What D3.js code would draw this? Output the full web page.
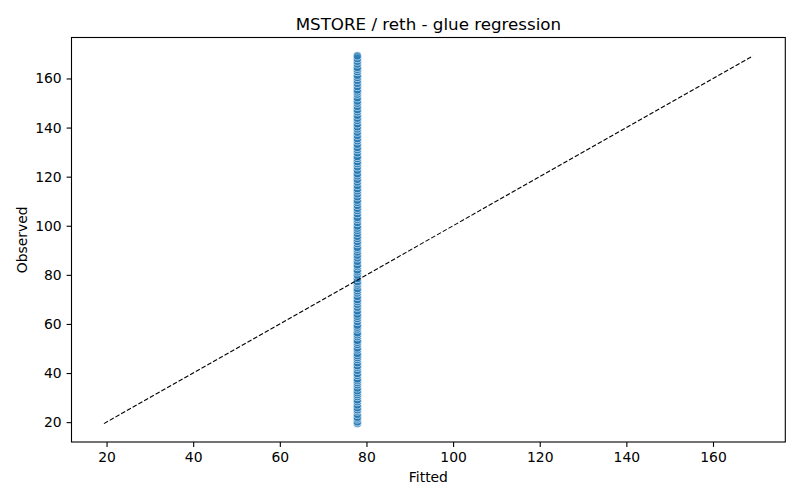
<!DOCTYPE html>
<html>
<head>
<meta charset="utf-8">
<script src="https://cdn.jsdelivr.net/npm/d3@7"></script>
<style>
  body { margin: 0; background: #fff; }
  svg text { font-family: "DejaVu Sans", sans-serif; fill: #000; }
</style>
</head>
<body>
<div id="chart"></div>
<script>
var observed = [
  19.4, 20.1, 21.3, 22.0, 23.2, 24.5, 25.1, 25.9, 27.0, 28.3, 29.1, 30.4,
  31.2, 32.0, 32.8, 33.9, 35.2, 36.1, 36.9, 37.6, 39.0, 39.8, 41.1, 42.3,
  43.0, 44.2, 45.5, 46.3, 47.1, 48.0, 49.4, 50.2, 51.6, 52.5, 53.3, 54.8,
  55.6, 56.4, 57.9, 58.7, 59.5, 61.0, 62.2, 63.1, 64.0, 65.3, 66.8, 68.0,
  69.1, 69.9, 71.2, 72.6, 73.5, 74.4, 75.8, 76.6, 77.3, 78.5, 79.9, 81.2,
  82.0, 83.4, 84.1, 85.5, 86.9, 88.0, 89.3, 90.4, 91.2, 92.7, 93.6, 94.8,
  95.7, 96.9, 98.1, 99.0, 99.9, 101.3, 102.6, 103.4, 104.9, 106.2, 107.1, 108.3,
  109.5, 110.4, 111.8, 113.0, 114.2, 115.1, 116.4, 117.8, 118.9, 120.3, 121.2, 122.6,
  124.0, 125.3, 126.1, 127.4, 128.2, 129.7, 131.0, 131.9, 133.2, 134.6, 135.5, 136.8,
  138.1, 139.4, 140.3, 141.5, 142.9, 143.8, 145.0, 146.4, 147.3, 148.6, 149.9, 150.8,
  152.1, 153.6, 154.5, 155.3, 156.7, 158.0, 159.2, 160.4, 161.3, 162.8, 163.7, 164.5,
  165.9, 167.0, 168.1, 169.2
];

// the model predicts the same value for every row
var fitted = [
  77.9, 77.9, 77.9, 77.9, 77.9, 77.9, 77.9, 77.9, 77.9, 77.9, 77.9, 77.9,
  77.9, 77.9, 77.9, 77.9, 77.9, 77.9, 77.9, 77.9, 77.9, 77.9, 77.9, 77.9,
  77.9, 77.9, 77.9, 77.9, 77.9, 77.9, 77.9, 77.9, 77.9, 77.9, 77.9, 77.9,
  77.9, 77.9, 77.9, 77.9, 77.9, 77.9, 77.9, 77.9, 77.9, 77.9, 77.9, 77.9,
  77.9, 77.9, 77.9, 77.9, 77.9, 77.9, 77.9, 77.9, 77.9, 77.9, 77.9, 77.9,
  77.9, 77.9, 77.9, 77.9, 77.9, 77.9, 77.9, 77.9, 77.9, 77.9, 77.9, 77.9,
  77.9, 77.9, 77.9, 77.9, 77.9, 77.9, 77.9, 77.9, 77.9, 77.9, 77.9, 77.9,
  77.9, 77.9, 77.9, 77.9, 77.9, 77.9, 77.9, 77.9, 77.9, 77.9, 77.9, 77.9,
  77.9, 77.9, 77.9, 77.9, 77.9, 77.9, 77.9, 77.9, 77.9, 77.9, 77.9, 77.9,
  77.9, 77.9, 77.9, 77.9, 77.9, 77.9, 77.9, 77.9, 77.9, 77.9, 77.9, 77.9,
  77.9, 77.9, 77.9, 77.9, 77.9, 77.9, 77.9, 77.9, 77.9, 77.9, 77.9, 77.9,
  77.9, 77.9, 77.9, 77.9
];

var diagonal = [19.4, 169.2];
var xTicks = [20, 40, 60, 80, 100, 120, 140, 160];
var yTicks = [20, 40, 60, 80, 100, 120, 140, 160];

var margin = {top: 37.5, right: 14.7, bottom: 58, left: 71.5},
    totalW = 800,
    totalH = 500,
    width = totalW - margin.left - margin.right,
    height = totalH - margin.top - margin.bottom;

// matplotlib style 5% padding around the data range
var lo = diagonal[0], hi = diagonal[1], pad = (hi - lo) * 0.05;

var x = d3.scaleLinear().domain([lo - pad, hi + pad]).range([0, width]);
var y = d3.scaleLinear().domain([lo - pad, hi + pad]).range([height, 0]);

var svg = d3.select('#chart').append('svg')
    .attr('width', totalW)
    .attr('height', totalH);

var g = svg.append('g')
    .attr('transform', 'translate(' + margin.left + ',' + margin.top + ')');

var points = observed.map(function(d, i) {
  return {fitted: fitted[i], observed: d};
});

g.selectAll('circle').data(points)
  .enter().append('circle')
    .attr('cx', function(d) { return x(d.fitted); })
    .attr('cy', function(d) { return y(d.observed); })
    .attr('r', 4.1)
    .attr('fill', '#1f77b4')
    .attr('fill-opacity', 0.75)
    .attr('stroke', '#fff')
    .attr('stroke-opacity', 0.75)
    .attr('stroke-width', 0.8);

var line = d3.line()
    .x(function(d) { return x(d); })
    .y(function(d) { return y(d); });

g.append('path')
    .datum(diagonal)
    .attr('d', line)
    .attr('fill', 'none')
    .attr('stroke', '#000')
    .attr('stroke-width', 1.1)
    .attr('stroke-dasharray', '4.6,2');

var xAxis = d3.axisBottom(x).tickValues(xTicks).tickSize(4.9).tickPadding(4.9);
var yAxis = d3.axisLeft(y).tickValues(yTicks).tickSize(4.9).tickPadding(4.9);

var gx = g.append('g')
    .attr('transform', 'translate(0,' + height + ')')
    .call(xAxis);
var gy = g.append('g').call(yAxis);

[gx, gy].forEach(function(ax) {
  ax.select('.domain').remove();
  ax.selectAll('line').attr('stroke', '#000').attr('stroke-width', 1.1);
  ax.selectAll('text')
    .style('font-family', '"DejaVu Sans", sans-serif')
    .style('font-size', '13.9px')
    .attr('fill', '#000');
});

// frame
g.append('rect')
    .attr('width', width)
    .attr('height', height)
    .attr('fill', 'none')
    .attr('stroke', '#000')
    .attr('stroke-width', 1.1);

svg.append('text')
    .attr('x', margin.left + width / 2)
    .attr('y', 30)
    .attr('text-anchor', 'middle')
    .style('font-size', '16.7px')
    .text('MSTORE / reth - glue regression');

svg.append('text')
    .attr('x', margin.left + width / 2)
    .attr('y', 482)
    .attr('text-anchor', 'middle')
    .style('font-size', '13.9px')
    .text('Fitted');

svg.append('text')
    .attr('transform', 'translate(27,' + (margin.top + height / 2) + ') rotate(-90)')
    .attr('text-anchor', 'middle')
    .style('font-size', '13.9px')
    .text('Observed');
</script>
</body>
</html>
